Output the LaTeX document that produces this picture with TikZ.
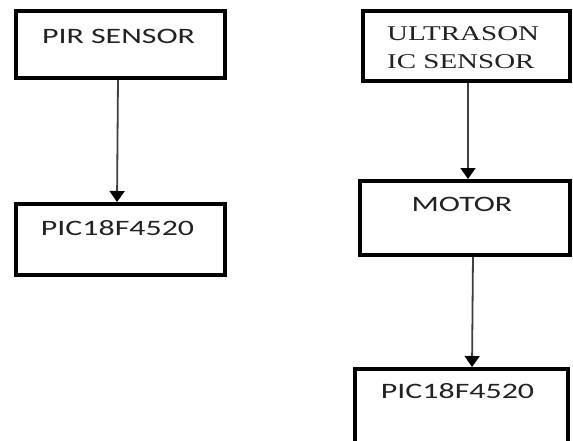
\documentclass[tikz,border=0pt]{standalone}
\usepackage{fontspec}
\usetikzlibrary{arrows.meta}
\newfontfamily\sansf[FakeStretch=1.45]{Carlito}
\newfontfamily\seriff[FakeStretch=1.38]{Liberation Serif}
\definecolor{txt}{HTML}{222222}
\tikzset{
  box/.style={draw=black, line width=4pt, inner sep=0pt, outer sep=0pt, rectangle},
  lbl/.style={inner sep=0pt, text=txt, font=\sansf\fontsize{22}{28}\selectfont},
  slbl/.style={inner sep=0pt, text=txt, align=left, font=\seriff\fontsize{21}{28}\selectfont},
  arr/.style={draw=black!75, line width=1.8pt, shorten <=2pt, shorten >=2pt,
    -{Triangle[width=15pt,length=11pt,fill=black,color=black]}}
}
\begin{document}
\begin{tikzpicture}[x=1pt,y=-1pt]
\clip (0,0) rectangle (573,440);
\fill[white] (0,0) rectangle (573,440);
% boxes
\node[box, minimum width=209pt, minimum height=67pt] (pir) at (120.5,44.5) {};
\node[box, minimum width=209pt, minimum height=71pt] (pic1) at (120.5,239.5) {};
\node[box, minimum width=207pt, minimum height=70pt] (ultra) at (466.5,46) {};
\node[box, minimum width=210pt, minimum height=74pt] (motor) at (465,218) {};
\node[box, minimum width=213pt, minimum height=101pt] (pic2) at (461.5,419.5) {};
% texts
\node[lbl, anchor=base] (tpir) at (118.5,43) {PIR SENSOR};
\node[lbl, anchor=base] (tpic1) at (117.5,235) {PIC18F4520};
\node[slbl, anchor=base west] (tultra) at (387,68) {ULTRASON\\IC SENSOR};
\node[lbl, anchor=base] (tmotor) at (462,211) {MOTOR};
\node[lbl, anchor=base] (tpic2) at (457.5,398) {PIC18F4520};
% connectors
\draw[arr] (118,0 |- pir.south) -- (117,0 |- pic1.north);
\draw[arr] (468,0 |- ultra.south) -- (468,0 |- motor.north);
\draw[arr] (473,0 |- motor.south) -- (472,0 |- pic2.north);
\end{tikzpicture}
\end{document}
